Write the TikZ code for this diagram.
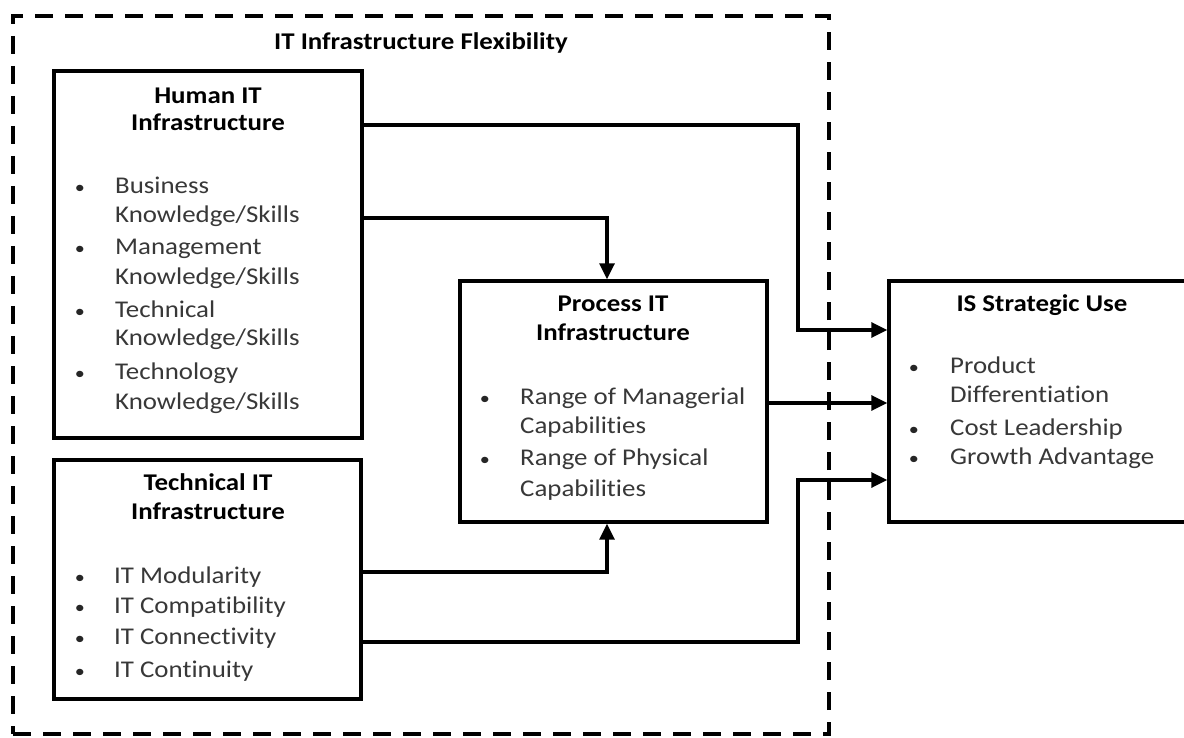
\documentclass[tikz,border=0pt]{standalone}
\usepackage{fontspec}
\setmainfont{Carlito}[FakeStretch=1.12, Ligatures=NoCommon, RawFeature={-liga;-dlig}]
\usetikzlibrary{arrows.meta}
\begin{document}
\begin{tikzpicture}[x=1pt,y=-1pt,
  box/.style={draw, line width=3.4pt, inner sep=0pt},
  flexbox/.style={draw, line width=3.4pt, inner sep=0pt, dash pattern=on 18pt off 12pt},
  conn/.style={line width=3.2pt, -{Triangle[length=16pt,width=15pt]}},
  ttl/.style={font=\fontsize{24}{29}\selectfont\bfseries, anchor=base, inner sep=0pt},
  itm/.style={font=\fontsize{24}{29}\selectfont, text=black!78, anchor=base west, inner sep=0pt},
  bul/.style={font=\fontsize{18}{29}\selectfont, text=black!85, anchor=base, inner sep=0pt}]
\useasboundingbox (0,0) rectangle (1184,738);
\fill[white] (0,0) rectangle (1184,738);

% outer dashed frame
\node[flexbox, minimum width=816pt, minimum height=718pt] (flex) at (421,375) {};
\node[ttl] (flextitle) at (421,50) {IT Infrastructure Flexibility};

% boxes
\node[box, minimum width=308pt, minimum height=367pt] (human) at (208,254.5) {};
\node[box, minimum width=307pt, minimum height=239pt] (tech) at (207.5,579.5) {};
\node[box, minimum width=307pt, minimum height=241pt] (process) at (613.5,401.5) {};
\node[box, minimum width=301pt, minimum height=241pt] (is) at (1039.5,401.5) {};

% connectors
\coordinate (k1) at (798,125);
\coordinate (t1) at (0,330);
\draw[conn] (human.east |- k1) -- (k1) |- (is.west |- t1);
\coordinate (k2) at (607,218);
\draw[conn] (human.east |- k2) -- (k2) -- (k2 |- process.north);
\coordinate (t3) at (0,403);
\draw[conn] (process.east |- t3) -- (is.west |- t3);
\coordinate (k4) at (607,572);
\draw[conn] (tech.east |- k4) -- (k4) -- (k4 |- process.south);
\coordinate (k5) at (798,642);
\coordinate (t5) at (0,480);
\draw[conn] (tech.east |- k5) -- (k5) |- (is.west |- t5);

% Human IT Infrastructure
\node[ttl] (ht1) at (208,104) {Human IT};
\node[ttl] (ht2) at (208,131) {Infrastructure};
\node[bul] (hb1) at (80,194) {\textbullet};
\node[bul] (hb2) at (80,255) {\textbullet};
\node[bul] (hb3) at (80,317) {\textbullet};
\node[bul] (hb4) at (80,379) {\textbullet};
\node[itm] (hi1) at (115,194) {Business};
\node[itm] (hi2) at (115,223) {Knowledge/Skills};
\node[itm] (hi3) at (115,255) {Management};
\node[itm] (hi4) at (115,284) {Knowledge/Skills};
\node[itm] (hi5) at (115,317) {Technical};
\node[itm] (hi6) at (115,345) {Knowledge/Skills};
\node[itm] (hi7) at (115,379) {Technology};
\node[itm] (hi8) at (115,409) {Knowledge/Skills};

% Technical IT Infrastructure
\node[ttl] (tt1) at (208,490) {Technical IT};
\node[ttl] (tt2) at (208,519) {Infrastructure};
\node[bul] (tb1) at (80,583) {\textbullet};
\node[bul] (tb2) at (80,613) {\textbullet};
\node[bul] (tb3) at (80,644) {\textbullet};
\node[bul] (tb4) at (80,677) {\textbullet};
\node[itm] (ti1) at (114,583) {IT Modularity};
\node[itm] (ti2) at (114,613) {IT Compatibility};
\node[itm] (ti3) at (114,644) {IT Connectivity};
\node[itm] (ti4) at (114,677) {IT Continuity};

% Process IT Infrastructure
\node[ttl] (pt1) at (613,312) {Process IT};
\node[ttl] (pt2) at (613,340) {Infrastructure};
\node[bul] (pb1) at (485,404) {\textbullet};
\node[bul] (pb2) at (485,465) {\textbullet};
\node[itm] (pi1) at (520,404) {Range of Managerial};
\node[itm] (pi2) at (520,433) {Capabilities};
\node[itm] (pi3) at (520,465) {Range of Physical};
\node[itm] (pi4) at (520,496) {Capabilities};

% IS Strategic Use
\node[ttl] (st1) at (1042,312) {IS Strategic Use};
\node[bul] (sb1) at (914,373) {\textbullet};
\node[bul] (sb2) at (914,435) {\textbullet};
\node[bul] (sb3) at (914,464) {\textbullet};
\node[itm] (si1) at (950,373) {Product};
\node[itm] (si2) at (950,402) {Differentiation};
\node[itm] (si3) at (950,435) {Cost Leadership};
\node[itm] (si4) at (950,464) {Growth Advantage};
\end{tikzpicture}
\end{document}
